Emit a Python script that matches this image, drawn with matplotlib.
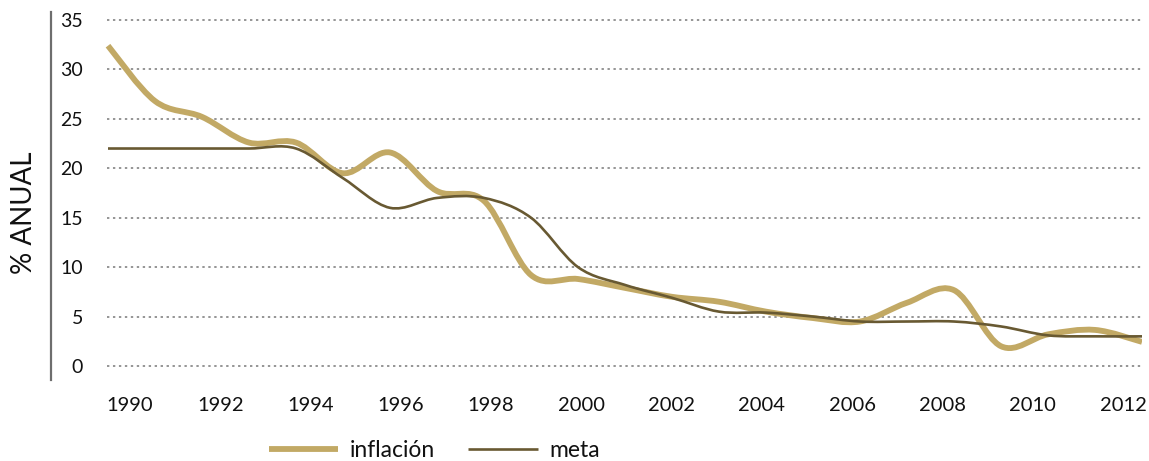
import numpy as np
import matplotlib
matplotlib.use("Agg")
import matplotlib.pyplot as plt
from matplotlib.path import Path
from matplotlib.patches import PathPatch
from matplotlib.lines import Line2D

plt.rcParams['font.family'] = ['Lato', 'DejaVu Sans']

# datos anuales
years = [1990, 1991, 1992, 1993, 1994, 1995, 1996, 1997, 1998, 1999, 2000, 2001,
         2002, 2003, 2004, 2005, 2006, 2007, 2008, 2009, 2010, 2011, 2012]
inflacion = [32.4, 26.8, 25.2, 22.6, 22.6, 19.5, 21.6, 17.7, 16.7, 9.2, 8.8, 7.9,
             7.0, 6.5, 5.5, 4.85, 4.5, 6.4, 7.67, 2.0, 3.2, 3.65, 2.44]
meta = [22, 22, 22, 22, 22, 19, 16, 17, 17, 15, 10, 8.2,
        6.9, 5.5, 5.4, 5.0, 4.5, 4.5, 4.5, 4.0, 3.1, 3.0, 3.0]
year_labels = ['1990', '1992', '1994', '1996', '1998', '2000',
               '2002', '2004', '2006', '2008', '2010', '2012']
y_ticks = [0, 5, 10, 15, 20, 25, 30, 35]

c_infl = '#c2a965'
c_meta = '#685932'


def smooth_path(x, y):
    # curva suavizada tipo Catmull-Rom con segmentos Bezier cubicos
    x = np.asarray(x, float)
    y = np.asarray(y, float)
    px = np.concatenate([[x[0]], x, [x[-1]]])
    py = np.concatenate([[y[0]], y, [y[-1]]])
    verts = [(x[0], y[0])]
    codes = [Path.MOVETO]
    for i in range(len(x) - 1):
        j = i + 1
        c1 = (px[j] + (px[j + 1] - px[j - 1]) / 6, py[j] + (py[j + 1] - py[j - 1]) / 6)
        c2 = (px[j + 1] - (px[j + 2] - px[j]) / 6, py[j + 1] - (py[j + 2] - py[j]) / 6)
        verts += [c1, c2, (x[i + 1], y[i + 1])]
        codes += [Path.CURVE4] * 3
    return Path(verts, codes)


fig = plt.figure(figsize=(11.49, 4.61), dpi=100)
ax = fig.add_axes([51 / 1149, 81 / 461, 1091 / 1149, 368 / 461])

ax.set_xlim(1990 - 57 / 47, 2012)
ax.set_ylim(-14 / 9.886, 35 + 8 / 9.886)

ax.hlines(y_ticks, 1990 - 1 / 47, 2012, colors='#8c8c8c', linewidth=1.3,
          linestyles=(0, (1.3, 2.0)), zorder=1)

ax.add_patch(PathPatch(smooth_path(years, inflacion), fill=False, edgecolor=c_infl,
                       linewidth=4.2, capstyle='butt', joinstyle='round', zorder=3))
ax.add_patch(PathPatch(smooth_path(years, meta), fill=False, edgecolor=c_meta,
                       linewidth=1.9, capstyle='butt', joinstyle='round', zorder=4))

for s in ['top', 'right', 'bottom']:
    ax.spines[s].set_visible(False)
ax.spines['left'].set_color('#6e6e6e')
ax.spines['left'].set_linewidth(1.6)

ax.set_yticks(y_ticks)
ax.set_yticklabels([str(v) for v in y_ticks])
ax.tick_params(axis='y', length=0, pad=-23, labelsize=14, labelcolor='#111111')

xt = np.linspace(1990 + 22 / 47, 1990 + 1015 / 47, len(year_labels))
ax.set_xticks(xt)
ax.set_xticklabels(year_labels)
ax.tick_params(axis='x', length=0, pad=12, labelsize=14.5, labelcolor='#111111')

fig.text(24 / 1149, 1 - 213 / 461, '% ANUAL', rotation=90, ha='center', va='center',
         fontsize=20, color='#111111')

handles = [Line2D([], [], color=c_infl, linewidth=4.2, solid_capstyle='butt'),
           Line2D([], [], color=c_meta, linewidth=1.9, solid_capstyle='butt')]
fig.legend(handles, ['inflación', 'meta'], loc='center', bbox_to_anchor=(0.378, 0.022),
           ncol=2, frameon=False, fontsize=16.5, handlelength=3.05, handletextpad=0.5,
           columnspacing=1.44, labelcolor='#111111')

fig.savefig('out.png', dpi=100)
